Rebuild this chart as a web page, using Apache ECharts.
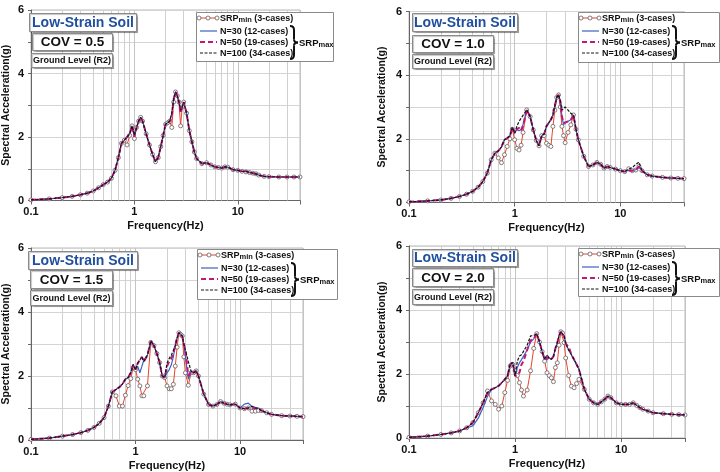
<!DOCTYPE html>
<html>
<head>
<meta charset="utf-8">
<script src="https://cdn.jsdelivr.net/npm/echarts@6/dist/echarts.min.js"></script>
<style>
html, body { margin: 0; padding: 0; background: #fff; }
#chart { width: 720px; height: 472px; }
</style>
</head>
<body>
<div id="chart"></div>
<script>
// frequency points (Hz)
const freq = [0.1, 0.15, 0.2, 0.25, 0.3, 0.35, 0.4, 0.45, 0.5, 0.55,
  0.6, 0.65, 0.7, 0.75, 0.8, 0.85, 0.9, 0.95, 1.0, 1.05,
  1.1, 1.15, 1.2, 1.3, 1.4, 1.5, 1.6, 1.7, 1.8, 1.9,
  2.0, 2.1, 2.2, 2.3, 2.4, 2.5, 2.6, 2.7, 2.8, 2.9,
  3.0, 3.2, 3.4, 3.6, 3.8, 4.0, 4.5, 5.0, 5.5, 6.0,
  6.5, 7.0, 7.5, 8.0, 9, 10, 11, 12, 13, 14,
  15, 16, 18, 20, 25, 30, 35, 40]

// COV = 0.5
const srpMin05 = [0.02, 0.05, 0.09, 0.13, 0.18, 0.23, 0.30, 0.40, 0.50, 0.58,
  0.70, 0.95, 1.35, 1.80, 1.90, 1.75, 2.05, 2.35, 1.95, 2.30,
  2.50, 2.62, 2.50, 2.10, 1.75, 1.45, 1.22, 1.35, 1.70, 2.05,
  2.40, 2.45, 2.50, 2.30, 3.10, 3.42, 3.30, 3.10, 2.35, 2.95,
  3.10, 2.75, 2.20, 1.85, 1.53, 1.32, 1.16, 1.19, 1.12, 1.06,
  1.04, 1.02, 1.06, 1.05, 0.97, 0.95, 0.92, 0.90, 0.88, 0.86,
  0.84, 0.80, 0.76, 0.75, 0.74, 0.74, 0.74, 0.74]
const n30_05 = [0.02, 0.05, 0.09, 0.13, 0.18, 0.23, 0.30, 0.40, 0.50, 0.58,
  0.70, 0.95, 1.35, 1.80, 1.90, 2.00, 2.10, 2.35, 2.08, 2.30,
  2.50, 2.62, 2.50, 2.10, 1.75, 1.45, 1.22, 1.35, 1.70, 2.05,
  2.40, 2.45, 2.50, 2.75, 3.20, 3.42, 3.30, 3.10, 2.88, 2.95,
  3.10, 2.75, 2.20, 1.85, 1.53, 1.32, 1.16, 1.19, 1.12, 1.06,
  1.04, 1.02, 1.06, 1.05, 0.97, 0.95, 0.92, 0.92, 0.88, 0.86,
  0.84, 0.80, 0.76, 0.75, 0.74, 0.74, 0.74, 0.74]
const n50_05 = [0.02, 0.05, 0.09, 0.13, 0.18, 0.23, 0.30, 0.40, 0.50, 0.58,
  0.70, 0.95, 1.35, 1.80, 1.90, 2.00, 2.10, 2.35, 2.00, 2.30,
  2.50, 2.62, 2.50, 2.10, 1.75, 1.45, 1.22, 1.35, 1.70, 2.05,
  2.40, 2.45, 2.50, 2.65, 3.20, 3.42, 3.30, 3.10, 2.75, 2.95,
  3.10, 2.75, 2.20, 1.85, 1.53, 1.32, 1.16, 1.19, 1.12, 1.06,
  1.04, 1.02, 1.06, 1.05, 0.97, 0.95, 0.92, 0.92, 0.88, 0.86,
  0.84, 0.80, 0.76, 0.75, 0.74, 0.74, 0.74, 0.74]
const n100_05 = [0.02, 0.05, 0.09, 0.13, 0.18, 0.23, 0.30, 0.40, 0.50, 0.58,
  0.70, 0.95, 1.35, 1.80, 1.90, 2.00, 2.10, 2.35, 2.05, 2.30,
  2.50, 2.62, 2.50, 2.10, 1.75, 1.45, 1.22, 1.35, 1.70, 2.05,
  2.40, 2.45, 2.50, 2.75, 3.20, 3.42, 3.30, 3.10, 2.85, 2.95,
  3.10, 2.75, 2.20, 1.85, 1.53, 1.32, 1.16, 1.19, 1.12, 1.06,
  1.04, 1.02, 1.06, 1.05, 0.97, 0.95, 0.92, 0.92, 0.88, 0.86,
  0.84, 0.80, 0.76, 0.75, 0.74, 0.74, 0.74, 0.74]

// COV = 1.0
const srpMin10 = [0.02, 0.05, 0.08, 0.13, 0.19, 0.26, 0.35, 0.48, 0.66, 0.92,
  1.34, 1.55, 1.40, 1.25, 1.50, 1.76, 2.00, 2.30, 1.97, 1.70,
  1.65, 1.80, 2.20, 2.91, 2.70, 2.28, 1.95, 1.78, 2.10, 2.10,
  1.86, 1.80, 1.76, 2.39, 2.90, 3.30, 3.38, 3.00, 2.39, 2.10,
  1.88, 2.20, 2.44, 2.75, 2.30, 1.97, 1.45, 1.13, 1.18, 1.26,
  1.20, 1.08, 1.13, 1.10, 1.05, 1.00, 0.97, 1.06, 1.00, 1.02,
  1.13, 1.00, 0.87, 0.83, 0.79, 0.77, 0.76, 0.75]
const n30_10 = [0.02, 0.05, 0.08, 0.13, 0.19, 0.26, 0.35, 0.48, 0.66, 0.92,
  1.34, 1.55, 1.62, 1.75, 1.97, 2.02, 2.10, 2.36, 2.18, 2.30,
  2.25, 2.30, 2.45, 2.91, 2.70, 2.28, 1.95, 1.78, 2.10, 2.15,
  2.40, 2.50, 2.60, 2.75, 3.05, 3.30, 3.38, 3.20, 2.70, 2.45,
  2.45, 2.55, 2.60, 2.75, 2.30, 1.97, 1.45, 1.13, 1.18, 1.26,
  1.20, 1.08, 1.13, 1.10, 1.05, 1.00, 0.97, 1.02, 1.00, 1.03,
  1.13, 1.00, 0.87, 0.83, 0.79, 0.77, 0.76, 0.75]
const n50_10 = [0.02, 0.05, 0.08, 0.13, 0.19, 0.26, 0.35, 0.48, 0.66, 0.92,
  1.34, 1.55, 1.62, 1.75, 1.97, 2.02, 2.10, 2.36, 2.18, 2.30,
  2.35, 2.25, 2.40, 2.91, 2.70, 2.28, 1.95, 1.78, 2.10, 2.15,
  2.40, 2.50, 2.60, 2.75, 3.05, 3.30, 3.38, 3.20, 2.70, 2.50,
  2.50, 2.55, 2.60, 2.75, 2.30, 1.97, 1.45, 1.13, 1.18, 1.26,
  1.20, 1.08, 1.13, 1.10, 1.05, 1.00, 0.97, 1.00, 1.00, 1.03,
  1.13, 1.00, 0.87, 0.83, 0.79, 0.77, 0.76, 0.75]
const n100_10 = [0.02, 0.05, 0.08, 0.13, 0.19, 0.26, 0.35, 0.48, 0.66, 0.92,
  1.34, 1.55, 1.62, 1.75, 1.97, 2.02, 2.10, 2.36, 2.18, 2.40,
  2.55, 2.65, 2.70, 2.91, 2.70, 2.28, 1.95, 1.78, 2.10, 2.15,
  2.40, 2.50, 2.60, 2.75, 3.05, 3.30, 3.38, 3.20, 2.90, 2.95,
  3.00, 2.90, 2.80, 2.75, 2.30, 1.97, 1.45, 1.13, 1.18, 1.26,
  1.20, 1.08, 1.13, 1.10, 1.05, 1.00, 0.97, 1.05, 1.10, 1.20,
  1.27, 1.00, 0.87, 0.83, 0.79, 0.77, 0.76, 0.75]

// COV = 1.5
const srpMin15 = [0.02, 0.06, 0.12, 0.17, 0.23, 0.30, 0.39, 0.52, 0.70, 1.06,
  1.50, 1.38, 1.06, 1.06, 1.40, 1.70, 1.92, 2.26, 2.20, 1.90,
  1.69, 1.38, 1.38, 1.69, 3.05, 2.95, 2.70, 2.42, 2.00, 1.95,
  1.69, 1.60, 1.60, 1.74, 2.31, 2.90, 3.35, 3.30, 3.25, 2.60,
  2.10, 1.71, 2.10, 2.10, 2.16, 2.00, 1.43, 1.11, 1.06, 1.11,
  1.20, 1.15, 1.12, 1.10, 1.12, 1.00, 0.98, 1.00, 0.90, 0.90,
  0.92, 0.92, 0.85, 0.80, 0.76, 0.75, 0.74, 0.73]
const n30_15 = [0.02, 0.06, 0.12, 0.17, 0.23, 0.30, 0.39, 0.52, 0.70, 1.06,
  1.50, 1.58, 1.65, 1.75, 1.90, 1.95, 2.10, 2.36, 2.20, 2.30,
  2.10, 2.30, 2.50, 2.65, 3.09, 2.95, 2.70, 2.42, 2.00, 1.95,
  2.10, 2.20, 2.35, 2.60, 2.95, 3.20, 3.35, 3.30, 3.25, 3.00,
  2.60, 1.90, 2.15, 2.10, 2.16, 2.00, 1.43, 1.11, 1.06, 1.11,
  1.20, 1.15, 1.12, 1.10, 1.12, 1.00, 1.12, 1.15, 1.05, 1.02,
  1.00, 0.92, 0.85, 0.80, 0.76, 0.75, 0.74, 0.73]
const n50_15 = [0.02, 0.06, 0.12, 0.17, 0.23, 0.30, 0.39, 0.52, 0.70, 1.06,
  1.50, 1.58, 1.65, 1.75, 1.90, 1.95, 2.10, 2.36, 2.20, 2.40,
  2.50, 2.60, 2.45, 2.65, 3.09, 2.95, 2.70, 2.42, 2.00, 1.95,
  2.30, 2.45, 2.55, 2.70, 2.95, 3.20, 3.35, 3.30, 3.25, 3.00,
  2.80, 2.00, 2.15, 2.10, 2.16, 2.00, 1.43, 1.11, 1.06, 1.11,
  1.20, 1.15, 1.12, 1.10, 1.12, 1.00, 0.98, 1.00, 0.98, 1.00,
  0.98, 0.92, 0.85, 0.80, 0.76, 0.75, 0.74, 0.73]
const n100_15 = [0.02, 0.06, 0.12, 0.17, 0.23, 0.30, 0.39, 0.52, 0.70, 1.06,
  1.50, 1.58, 1.65, 1.75, 1.90, 1.95, 2.10, 2.36, 2.20, 2.40,
  2.50, 2.60, 2.45, 2.65, 3.09, 2.95, 2.70, 2.42, 2.00, 1.95,
  2.40, 2.55, 2.65, 2.80, 2.95, 3.20, 3.35, 3.30, 3.25, 3.00,
  2.95, 2.45, 2.15, 2.10, 2.16, 2.00, 1.43, 1.11, 1.06, 1.11,
  1.20, 1.15, 1.12, 1.10, 1.12, 1.00, 0.98, 1.00, 1.05, 1.00,
  0.98, 0.92, 0.85, 0.80, 0.76, 0.75, 0.74, 0.73]

// COV = 2.0
const srpMin20 = [0.02, 0.06, 0.11, 0.16, 0.22, 0.32, 0.48, 0.79, 1.10, 1.47,
  1.16, 1.05, 0.90, 1.00, 1.42, 1.80, 2.25, 2.30, 2.10, 1.95,
  1.73, 1.50, 1.31, 1.50, 2.10, 2.80, 3.26, 3.00, 2.70, 2.40,
  2.04, 1.95, 1.88, 1.76, 2.20, 2.35, 2.90, 3.32, 3.28, 2.98,
  2.50, 1.95, 1.62, 1.57, 1.70, 1.83, 1.52, 1.21, 1.10, 1.05,
  1.13, 1.21, 1.31, 1.26, 1.10, 1.05, 1.05, 1.05, 1.10, 1.02,
  0.95, 0.90, 0.84, 0.79, 0.76, 0.74, 0.73, 0.72]
const n30_20 = [0.02, 0.06, 0.11, 0.16, 0.22, 0.32, 0.38, 0.62, 0.95, 1.30,
  1.52, 1.57, 1.63, 1.73, 1.83, 1.95, 2.30, 2.36, 1.94, 2.20,
  2.35, 2.45, 2.50, 2.75, 3.00, 3.10, 3.26, 3.00, 2.70, 2.46,
  2.45, 2.50, 2.46, 2.55, 2.80, 2.98, 3.20, 3.32, 3.28, 3.19,
  2.95, 2.75, 2.60, 2.45, 2.30, 2.15, 1.52, 1.21, 1.10, 1.05,
  1.13, 1.21, 1.31, 1.26, 1.10, 1.05, 1.05, 1.05, 1.10, 1.02,
  0.95, 0.90, 0.84, 0.79, 0.76, 0.74, 0.73, 0.72]
const n50_20 = [0.02, 0.06, 0.11, 0.16, 0.22, 0.32, 0.48, 0.79, 1.10, 1.42,
  1.52, 1.57, 1.63, 1.73, 1.83, 1.95, 2.30, 2.36, 1.94, 1.95,
  2.05, 2.30, 2.40, 2.75, 3.05, 3.10, 3.26, 3.00, 2.70, 2.46,
  2.50, 2.50, 2.46, 2.55, 2.80, 2.98, 3.20, 3.32, 3.28, 3.19,
  2.95, 2.85, 2.60, 2.45, 2.30, 2.15, 1.52, 1.21, 1.10, 1.05,
  1.13, 1.21, 1.31, 1.26, 1.10, 1.05, 1.05, 1.05, 1.10, 1.02,
  0.95, 0.90, 0.84, 0.79, 0.76, 0.74, 0.73, 0.72]
const n100_20 = [0.02, 0.06, 0.11, 0.16, 0.22, 0.32, 0.48, 0.79, 1.10, 1.42,
  1.52, 1.57, 1.63, 1.73, 1.83, 1.95, 2.30, 2.36, 1.94, 2.40,
  2.56, 2.60, 2.60, 2.90, 3.19, 3.20, 3.26, 3.00, 2.70, 2.46,
  2.60, 2.50, 2.46, 2.55, 2.80, 2.98, 3.20, 3.32, 3.28, 3.19,
  2.95, 2.75, 2.60, 2.45, 2.30, 2.15, 1.52, 1.21, 1.10, 1.05,
  1.13, 1.21, 1.31, 1.26, 1.10, 1.05, 1.05, 1.05, 1.10, 1.02,
  0.95, 0.90, 0.84, 0.79, 0.76, 0.74, 0.73, 0.72]

const covLabels = ['COV = 0.5', 'COV = 1.0', 'COV = 1.5', 'COV = 2.0']
const soilLabel = 'Low-Strain Soil'
const levelLabel = 'Ground Level (R2)'
const seriesNames = ['SRPmin (3-cases)', 'N=30 (12-cases)', 'N=50 (19-cases)', 'N=100 (34-cases)']
const xLabelValues = [0.1, 1, 10]
const minorFreq = [0.2, 0.3, 0.4, 0.5, 0.6, 0.7, 0.8, 0.9, 2, 3, 4, 5, 6, 7, 8, 9, 20, 30]

const FONT = '"Liberation Sans", Arial, sans-serif'

// 每个子图的位置
const panels = [
	{ data: [srpMin05, n30_05, n50_05, n100_05], grid: { left: 28, top: 10, width: 272, height: 190.5 },
		ls: [29, 13, 107, 18], cov: [32, 33, 80, 17], gl: [31, 53, 81, 14], leg: [196, 12, 137, 49], yGap: 19 },
	{ data: [srpMin10, n30_10, n50_10, n100_10], grid: { left: 409, top: 11.5, width: 275, height: 191 },
		ls: [412, 13, 105, 18], cov: [412, 35, 81, 17], gl: [412, 54, 81, 14], leg: [578, 12, 141, 50], yGap: 21 },
	{ data: [srpMin15, n30_15, n50_15, n100_15], grid: { left: 27, top: 248, width: 276, height: 192 },
		ls: [28, 251, 109, 18], cov: [30, 270, 82, 18], gl: [30, 290, 82, 15], leg: [197, 249, 140, 50], yGap: 19 },
	{ data: [srpMin20, n30_20, n50_20, n100_20], grid: { left: 409, top: 246, width: 276, height: 192 },
		ls: [412, 249, 105, 17], cov: [412, 268, 81, 18], gl: [412, 289, 81, 15], leg: [578, 248, 141, 48], yGap: 21 }
]

const lineStyles = [
	{ color: '#e8442a', width: 1, type: 'solid' },
	{ color: '#3b62c4', width: 1.2, type: 'solid' },
	{ color: '#c2187a', width: 2, type: [5, 3] },
	{ color: '#151515', width: 1.2, type: [3, 1.5] }
]

const grids = [], xAxes = [], yAxes = [], series = [], graphics = []

const boxText = (b, text, size, color) => [
	{ type: 'rect', z: 20, shape: { x: b[0] + 0.5, y: b[1] + 0.5, width: b[2], height: b[3] },
		style: { fill: '#fff', stroke: '#8a8a8a', lineWidth: 1, shadowColor: 'rgba(0,0,0,0.25)', shadowBlur: 1, shadowOffsetX: 1, shadowOffsetY: 1 } },
	{ type: 'text', z: 21, x: b[0] + b[2] / 2 + 0.5, y: b[1] + b[3] / 2 + 1,
		style: { text, fill: color, fontSize: size, fontWeight: 'bold', fontFamily: FONT, align: 'center', verticalAlign: 'middle' } }
]

const legendBox = (l) => {
	const [bx, by, bw, bh] = l
	const rows = [by + 6, by + 19, by + 30, by + 41]
	const els = [
		{ type: 'rect', z: 20, shape: { x: bx + 0.5, y: by + 0.5, width: bw, height: bh },
			style: { fill: '#fff', stroke: '#8a8a8a', lineWidth: 1 } }
	]
	// SRPmin 样例
	els.push({ type: 'line', z: 21, shape: { x1: bx + 3, y1: rows[0], x2: bx + 21, y2: rows[0] }, style: { stroke: lineStyles[0].color, lineWidth: 1 } })
	;[bx + 3, bx + 12, bx + 21].forEach((cx) => {
		els.push({ type: 'circle', z: 22, shape: { cx, cy: rows[0], r: 2 }, style: { fill: '#fff', stroke: '#6a5a5a', lineWidth: 0.8 } })
	})
	els.push({ type: 'text', z: 21, x: bx + 24, y: rows[0],
		style: { text: '{a|SRP}{b|min}{a| (3-cases)}', fontFamily: FONT, verticalAlign: 'middle',
			rich: { a: { fontSize: 9, fontWeight: 'bold', fontFamily: FONT, fill: '#111', lineHeight: 11, verticalAlign: 'bottom' },
				b: { fontSize: 7.5, fontWeight: 'bold', fontFamily: FONT, fill: '#111', lineHeight: 8, verticalAlign: 'bottom' } } } })
	for (let i = 1; i < 4; i++) {
		const ls = lineStyles[i]
		els.push({ type: 'line', z: 21, shape: { x1: bx + 4, y1: rows[i], x2: bx + 21, y2: rows[i] },
			style: { stroke: ls.color, lineWidth: ls.width, lineDash: Array.isArray(ls.type) ? ls.type : null } })
		els.push({ type: 'text', z: 21, x: bx + 24, y: rows[i] + 0.5,
			style: { text: seriesNames[i], fontSize: 9, fontWeight: 'bold', fontFamily: FONT, fill: '#111', verticalAlign: 'middle' } })
	}
	// 大括号 + SRPmax
	const x = bx + 94, top = rows[1] - 5, bot = rows[3] + 6, mid = (top + bot) / 2
	const braceStyle = { fill: null, stroke: '#111', lineWidth: 2 }
	els.push({ type: 'bezierCurve', z: 22, shape: { x1: x, y1: top, x2: x + 4, y2: top + 4, cpx1: x + 4, cpy1: top }, style: braceStyle })
	els.push({ type: 'line', z: 22, shape: { x1: x + 4, y1: top + 4, x2: x + 4, y2: mid - 3 }, style: braceStyle })
	els.push({ type: 'bezierCurve', z: 22, shape: { x1: x + 4, y1: mid - 3, x2: x + 8, y2: mid, cpx1: x + 4, cpy1: mid }, style: braceStyle })
	els.push({ type: 'bezierCurve', z: 22, shape: { x1: x + 8, y1: mid, x2: x + 4, y2: mid + 3, cpx1: x + 4, cpy1: mid }, style: braceStyle })
	els.push({ type: 'line', z: 22, shape: { x1: x + 4, y1: mid + 3, x2: x + 4, y2: bot - 4 }, style: braceStyle })
	els.push({ type: 'bezierCurve', z: 22, shape: { x1: x + 4, y1: bot - 4, x2: x, y2: bot, cpx1: x + 4, cpy1: bot }, style: braceStyle })
	els.push({ type: 'text', z: 22, x: bx + 103, y: mid,
		style: { text: '{a|SRP}{b|max}', verticalAlign: 'middle',
			rich: { a: { fontSize: 9.5, fontWeight: 'bold', fontFamily: FONT, fill: '#111', lineHeight: 12, verticalAlign: 'bottom' },
				b: { fontSize: 7.5, fontWeight: 'bold', fontFamily: FONT, fill: '#111', lineHeight: 6, verticalAlign: 'bottom' } } } })
	return els
}

panels.forEach((p, i) => {
	grids.push(Object.assign({ show: true, borderColor: '#b8b8b8', borderWidth: 1, backgroundColor: 'transparent' }, p.grid))
	xAxes.push({
		type: 'log', logBase: 10, min: 0.1, max: 40, gridIndex: i,
		name: 'Frequency(Hz)', nameLocation: 'middle', nameGap: 20,
		nameTextStyle: { fontSize: 11, fontWeight: 'bold', fontFamily: FONT, color: '#111' },
		axisLine: { lineStyle: { color: '#666', width: 1 } },
		axisTick: { show: true, length: 4, lineStyle: { color: '#666' } },
		axisLabel: {
			margin: 6, fontSize: 11, fontWeight: 'bold', fontFamily: FONT, color: '#111',
			formatter: (v) => {
				const t = xLabelValues.find((t) => Math.abs(Math.log10(v) - Math.log10(t)) < 0.01)
				return t === undefined ? '' : String(t)
			}
		},
		splitLine: { show: true, lineStyle: { color: '#c4c4c4', width: 1 } }
	})
	yAxes.push({
		type: 'value', min: 0, max: 6, interval: 1, gridIndex: i,
		name: 'Spectral Acceleration(g)', nameLocation: 'middle', nameGap: p.yGap,
		nameTextStyle: { fontSize: 10.5, fontWeight: 'bold', fontFamily: FONT, color: '#111' },
		axisLine: { show: true, lineStyle: { color: '#666', width: 1 } },
		axisTick: { show: true, length: 3, lineStyle: { color: '#666' } },
		axisLabel: { margin: 7, fontSize: 11, fontWeight: 'bold', fontFamily: FONT, color: '#111',
			formatter: (v) => (v % 2 === 0 ? String(v) : '') },
		splitLine: { show: true, lineStyle: { color: '#d4d4d4', width: 1 } }
	})
	// 次网格线 + 次刻度
	series.push({
		type: 'line', xAxisIndex: i, yAxisIndex: i, data: [], silent: true, z: 1,
		markLine: {
			silent: true, symbol: ['none', 'none'], label: { show: false }, z: 1, animation: false,
			lineStyle: { color: '#d0d0d0', width: 1, type: 'solid' },
			data: minorFreq.map((f) => ({ xAxis: f }))
		}
	})
	series.push({
		type: 'line', xAxisIndex: i, yAxisIndex: i, data: [], silent: true, z: 1, clip: false,
		markLine: {
			silent: true, symbol: ['none', 'none'], label: { show: false }, z: 2, animation: false,
			lineStyle: { color: '#777', width: 1, type: 'solid' },
			data: minorFreq.map((f) => [{ coord: [f, 0] }, { coord: [f, -0.07] }])
		}
	})
	p.data.forEach((vals, k) => {
		const s = {
			name: seriesNames[k], type: 'line', xAxisIndex: i, yAxisIndex: i, z: 3 + k,
			data: freq.map((f, j) => [f, vals[j]]),
			lineStyle: lineStyles[k],
			showSymbol: false, silent: true
		}
		if (k === 0) {
			Object.assign(s, { showSymbol: true, showAllSymbol: true, symbol: 'circle', symbolSize: 4,
				itemStyle: { color: '#fff', borderColor: '#6a5a5a', borderWidth: 0.8 } })
		}
		series.push(s)
	})
	graphics.push(...boxText(p.ls, soilLabel, 14, '#1f4f9e'))
	graphics.push(...boxText(p.cov, covLabels[i], 13.5, '#111'))
	graphics.push(...boxText(p.gl, levelLabel, 9, '#111'))
	graphics.push(...legendBox(p.leg))
})

const myChart = echarts.init(document.getElementById('chart'), null, { renderer: 'canvas' })
const option = {
	animation: false,
	backgroundColor: '#fff',
	grid: grids,
	xAxis: xAxes,
	yAxis: yAxes,
	series,
	graphic: graphics
}
option && myChart.setOption(option)
</script>
</body>
</html>
